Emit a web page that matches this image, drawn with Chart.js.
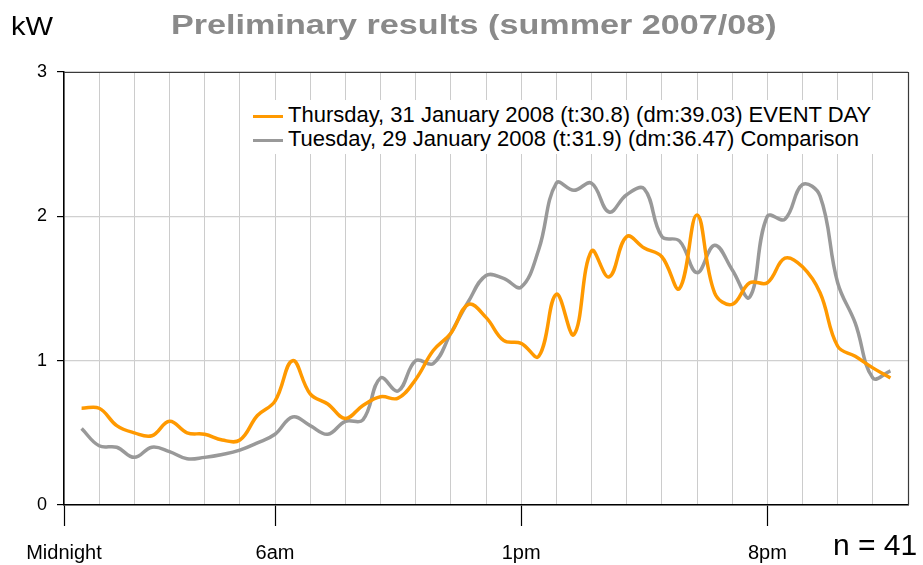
<!DOCTYPE html>
<html>
<head>
<meta charset="utf-8">
<script src="https://cdn.jsdelivr.net/npm/chart.js@4.4.1/dist/chart.umd.min.js"></script>
<style>
  html, body { margin: 0; padding: 0; background: #fff; }
  #wrap { position: relative; width: 923px; height: 565px; overflow: hidden; font-family: "Liberation Sans", Arial, sans-serif; }
  #c { position: absolute; left: 0; top: 0; }
  .abs { position: absolute; white-space: nowrap; line-height: 1; }
  #title { left: 171px; top: 12px; font-size: 27px; font-weight: bold; color: #8a8a8a; transform-origin: 0 0; transform: scaleX(1.265); }
  #unit { left: 11px; top: 13px; font-size: 26px; color: #000; transform-origin: 0 0; transform: scaleX(1.12); }
  #nlabel { left: 833px; top: 530px; font-size: 30px; color: #000; }
  #legend { left: 240px; top: 100px; width: 645px; height: 54px; background: #fff; }
  .row { position: absolute; left: 12px; height: 24px; }
  .sw { position: absolute; left: 1px; width: 30px; top: 12px; }
  .lt { position: absolute; left: 36px; top: 1px; font-size: 22px; color: #000; line-height: 1; white-space: nowrap; }
</style>
</head>
<body>
<div id="wrap">
  <canvas id="c" width="923" height="565"></canvas>
  <div class="abs" id="unit">kW</div>
  <div class="abs" id="title">Preliminary results (summer 2007/08)</div>
  <div class="abs" id="nlabel">n = 41</div>
  <div class="abs" id="legend">
    <div class="row" style="top:3px"><div class="sw" style="border-top:3px solid #ff9900"></div><div class="lt">Thursday, 31 January 2008 (t:30.8) (dm:39.03) EVENT DAY</div></div>
    <div class="row" style="top:27px"><div class="sw" style="border-top:3.5px solid #999999"></div><div class="lt">Tuesday, 29 January 2008 (t:31.9) (dm:36.47) Comparison</div></div>
  </div>
</div>
<script>
// Half-hourly readings (hour of day)
const hours = [0.5,1,1.5,2,2.5,3,3.5,4,4.5,5,5.5,6,6.5,7,7.5,8,8.5,9,9.5,10,10.5,11,11.5,12,
               12.5,13,13.5,14,14.5,15,15.5,16,16.5,17,17.5,18,18.5,19,19.5,20,20.5,21,21.5,22,22.5,23,23.5];
// Thursday 31 Jan 2008 - EVENT DAY (kW)
const eventDay = [0.67,0.67,0.55,0.50,0.48,0.58,0.50,0.49,0.45,0.45,0.62,0.72,1.00,0.77,0.70,0.60,0.69,0.75,0.74,0.87,1.07,1.19,1.39,1.30,
                  1.14,1.12,1.03,1.46,1.18,1.76,1.58,1.86,1.78,1.72,1.50,2.01,1.47,1.39,1.54,1.54,1.71,1.65,1.47,1.10,1.03,0.95,0.88];
// Tuesday 29 Jan 2008 - Comparison (kW)
const comparison = [0.53,0.41,0.40,0.33,0.40,0.37,0.32,0.33,0.35,0.38,0.43,0.49,0.61,0.55,0.49,0.58,0.59,0.88,0.79,1.00,0.98,1.19,1.41,1.59,
                    1.57,1.51,1.77,2.23,2.18,2.23,2.03,2.15,2.19,1.86,1.83,1.61,1.80,1.63,1.44,2.00,1.98,2.22,2.14,1.54,1.26,0.88,0.93];
// Axis labels
const xTickLabels = { 0: "Midnight", 6: "6am", 13: "1pm", 20: "8pm" };
const yTicks = [0, 1, 2, 3];

const seriesNames = [
  "Thursday, 31 January 2008 (t:30.8) (dm:39.03) EVENT DAY",
  "Tuesday, 29 January 2008 (t:31.9) (dm:36.47) Comparison"
];

const toPts = (vals) => hours.map((h, i) => ({ x: h, y: vals[i] }));

const framePlugin = {
  id: 'frame',
  afterDraw(chart) {
    const { ctx, chartArea: a } = chart;
    ctx.save();
    ctx.strokeStyle = '#3a3a3a';
    ctx.lineWidth = 1.2;
    ctx.beginPath();
    ctx.moveTo(a.left, a.top + 0.5);
    ctx.lineTo(a.right + 0.5, a.top + 0.5);
    ctx.lineTo(a.right + 0.5, a.bottom);
    ctx.stroke();
    ctx.restore();
  }
};

new Chart(document.getElementById('c'), {
  type: 'line',
  data: {
    datasets: [
      { label: seriesNames[0], data: toPts(eventDay), borderColor: '#ff9900', borderWidth: 3.5, pointRadius: 0, tension: 0.4, fill: false, order: 0 },
      { label: seriesNames[1], data: toPts(comparison), borderColor: '#999999', borderWidth: 3.5, pointRadius: 0, tension: 0.4, fill: false, order: 1 }
    ]
  },
  options: {
    responsive: false,
    animation: false,
    devicePixelRatio: 1,
    layout: { padding: { left: 0, top: 72, right: 11, bottom: 0 } },
    plugins: { legend: { display: false }, title: { display: false }, tooltip: { enabled: false } },
    scales: {
      x: {
        type: 'linear', min: 0, max: 24,
        afterFit: (s) => { s.height = 60; },
        afterBuildTicks: (s) => { s.ticks = Array.from({ length: 25 }, (_, i) => ({ value: i })); },
        border: { color: '#000', width: 1.5 },
        grid: {
          color: '#cccccc', lineWidth: 1, drawTicks: true, tickLength: 21,
          tickColor: (ctx) => (ctx.tick && xTickLabels[ctx.tick.value] !== undefined) ? '#000' : 'rgba(0,0,0,0)',
          tickWidth: 1.2
        },
        ticks: {
          autoSkip: false, maxRotation: 0, padding: 15, color: '#000',
          font: { family: '"Liberation Sans", Arial, sans-serif', size: 20 },
          callback: (v) => xTickLabels[v] !== undefined ? xTickLabels[v] : ''
        }
      },
      y: {
        min: 0, max: 3,
        afterFit: (s) => { s.width = 64; },
        afterBuildTicks: (s) => { s.ticks = yTicks.map(v => ({ value: v })); },
        border: { color: '#000', width: 1.5 },
        grid: { color: '#d0d0d0', lineWidth: 1.2, tickLength: 7, tickColor: '#000' },
        ticks: { padding: 10, color: '#000', font: { family: '"Liberation Sans", Arial, sans-serif', size: 18 } }
      }
    }
  },
  plugins: [framePlugin]
});
</script>
</body>
</html>
